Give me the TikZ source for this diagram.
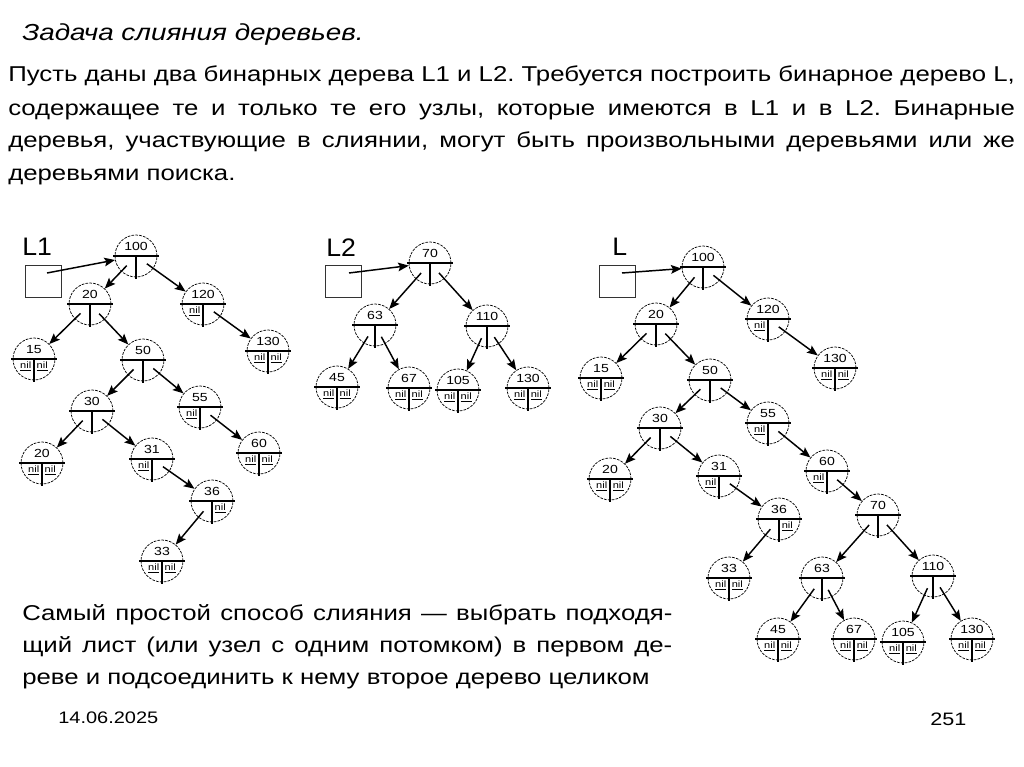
\documentclass[tikz,border=0pt]{standalone}
\usepackage{fontspec}
\setmainfont[FakeStretch=1.2]{Liberation Sans}
\newfontfamily\lblfont[FakeStretch=1.05]{Liberation Sans}
\usetikzlibrary{arrows.meta,calc}
\frenchspacing
\tikzset{
  tn/.style={circle, draw=black, dash pattern=on 2pt off 0.9pt, line width=0.55pt, minimum size=31.5pt, inner sep=0pt},
  hln/.style={line width=0.9pt},
  vln/.style={line width=1pt},
  val/.style={font=\fontsize{8.8}{9}\selectfont, inner sep=0pt},
  nilt/.style={font=\fontsize{6.9}{7}\selectfont, inner sep=0pt},
  arr/.style={-{Stealth[length=8pt,width=6.5pt,inset=1.5pt]}, line width=1.1pt, shorten <=10pt},
  parr/.style={-{Stealth[length=8pt,width=6.5pt,inset=1.5pt]}, line width=1.1pt},
  ptr/.style={draw=black!80, line width=0.6pt, minimum width=27pt, minimum height=24pt, inner sep=0pt},
  lbl/.style={font=\lblfont\fontsize{19}{20}\selectfont, inner sep=0pt, anchor=base west},
  txt/.style={font=\fontsize{16.1}{20}\selectfont, inner sep=0pt, anchor=base west},
}
\newcommand\nl{\underline{nil}}
\newcommand\treenode[6]{%
  \node[tn] (#1) at (#2,#3) {};
  \draw[hln] ([xshift=-1pt]#1.west) -- ([xshift=1pt]#1.east);
  \draw[vln] (#1.center) -- ([yshift=-1pt]#1.south);
  \node[val] (#1v) at ([yshift=7pt]#1.center) {#4};
  \node[nilt] (#1l) at ([xshift=-6.2pt,yshift=-5.4pt]#1.center) {#5};
  \node[nilt] (#1r) at ([xshift=6.2pt,yshift=-5.4pt]#1.center) {#6};
}
\newcommand\edge[2]{\draw[arr] (#1.center) -- (#2);}
\begin{document}
\begin{tikzpicture}[x=0.75pt,y=-0.75pt]
\useasboundingbox (0,0) rectangle (1024,767);
\fill[white] (0,0) rectangle (1024,767);

% texts
\node[txt, font=\fontsize{17.4}{20}\selectfont\itshape] (title) at (22,41) {Задача слияния деревьев.};
\node[txt] (p1) at (8,82) {\makebox[755pt][s]{Пусть даны два бинарных дерева L1 и L2. Требуется построить бинарное дерево L,}};
\node[txt] (p2) at (8,115) {\makebox[755pt][s]{содержащее те и только те его узлы, которые имеются в L1 и в L2. Бинарные}};
\node[txt] (p3) at (8,147) {\makebox[755pt][s]{деревья, участвующие в слиянии, могут быть произвольными деревьями или же}};
\node[txt] (p4) at (8,180) {деревьями поиска.};

\node[txt] (q1) at (22,620) {\makebox[487.5pt][s]{Самый простой способ слияния — выбрать подходя-}};
\node[txt] (q2) at (22,652) {\makebox[487.5pt][s]{щий лист (или узел с одним потомком) в первом де-}};
\node[txt] (q3) at (22,684) {реве и подсоединить к нему второе дерево целиком};

\node[txt, font=\fontsize{12.5}{14}\selectfont] (date) at (58,723) {14.06.2025};
\node[txt, font=\fontsize{13.5}{15}\selectfont] (page) at (930,725) {251};

% labels and pointer boxes
\node[lbl] (lab1) at (22,255) {L1};
\node[lbl] (lab2) at (326,256) {L2};
\node[lbl] (lab3) at (612,255) {L};
\node[ptr] (box1) at (43,281) {};
\node[ptr] (box2) at (343.5,281.5) {};
\node[ptr] (box3) at (617,281) {};
\coordinate (s1) at (47,273);
\coordinate (s2) at (349,273);
\coordinate (s3) at (622,273);

% ---------- L1 ----------
\treenode{a100}{136}{256}{100}{}{}
\treenode{a20}{90}{304}{20}{}{}
\treenode{a120}{203}{304}{120}{\nl}{}
\treenode{a15}{34}{359}{15}{\nl}{\nl}
\treenode{a50}{143}{360}{50}{}{}
\treenode{a130}{268}{351}{130}{\nl}{\nl}
\treenode{a30}{92}{411}{30}{}{}
\treenode{a55}{200}{407}{55}{\nl}{}
\treenode{a20b}{42}{463}{20}{\nl}{\nl}
\treenode{a31}{152}{459}{31}{\nl}{}
\treenode{a60}{259}{453}{60}{\nl}{\nl}
\treenode{a36}{212}{501}{36}{}{\nl}
\treenode{a33}{162}{561}{33}{\nl}{\nl}
\draw[parr] (s1) -- (a100);
\edge{a100}{a20}
\edge{a100}{a120}
\edge{a20}{a15}
\edge{a20}{a50}
\edge{a120}{a130}
\edge{a50}{a30}
\edge{a50}{a55}
\edge{a55}{a60}
\edge{a30}{a20b}
\edge{a30}{a31}
\edge{a31}{a36}
\edge{a36}{a33}

% ---------- L2 ----------
\treenode{b70}{430}{263}{70}{}{}
\treenode{b63}{375}{325}{63}{}{}
\treenode{b110}{487}{326}{110}{}{}
\treenode{b45}{337}{387}{45}{\nl}{\nl}
\treenode{b67}{409}{388}{67}{\nl}{\nl}
\treenode{b105}{458}{390}{105}{\nl}{\nl}
\treenode{b130}{528}{388}{130}{\nl}{\nl}
\draw[parr] (s2) -- (b70);
\edge{b70}{b63}
\edge{b70}{b110}
\edge{b63}{b45}
\edge{b63}{b67}
\edge{b110}{b105}
\edge{b110}{b130}

% ---------- L ----------
\treenode{c100}{703}{267}{100}{}{}
\treenode{c20}{656}{324}{20}{}{}
\treenode{c120}{768}{319}{120}{\nl}{}
\treenode{c15}{601}{378}{15}{\nl}{\nl}
\treenode{c50}{710}{380}{50}{}{}
\treenode{c130}{835}{368}{130}{\nl}{\nl}
\treenode{c30}{660}{428}{30}{}{}
\treenode{c55}{768}{423}{55}{\nl}{}
\treenode{c20b}{610}{479}{20}{\nl}{\nl}
\treenode{c31}{719}{476}{31}{\nl}{}
\treenode{c60}{827}{471}{60}{\nl}{}
\treenode{c36}{779}{519}{36}{}{\nl}
\treenode{c33}{729}{578}{33}{\nl}{\nl}
\treenode{c70}{878}{515}{70}{}{}
\treenode{c63}{822}{578}{63}{}{}
\treenode{c110}{933}{576}{110}{}{}
\treenode{c45}{778}{639}{45}{\nl}{\nl}
\treenode{c67}{854}{639}{67}{\nl}{\nl}
\treenode{c105}{903}{642}{105}{\nl}{\nl}
\treenode{c130b}{972}{639}{130}{\nl}{\nl}
\draw[parr] (s3) -- (c100);
\edge{c100}{c20}
\edge{c100}{c120}
\edge{c20}{c15}
\edge{c20}{c50}
\edge{c120}{c130}
\edge{c50}{c30}
\edge{c50}{c55}
\edge{c55}{c60}
\edge{c30}{c20b}
\edge{c30}{c31}
\edge{c31}{c36}
\edge{c36}{c33}
\edge{c60}{c70}
\edge{c70}{c63}
\edge{c70}{c110}
\edge{c63}{c45}
\edge{c63}{c67}
\edge{c110}{c105}
\edge{c110}{c130b}
\end{tikzpicture}
\end{document}
